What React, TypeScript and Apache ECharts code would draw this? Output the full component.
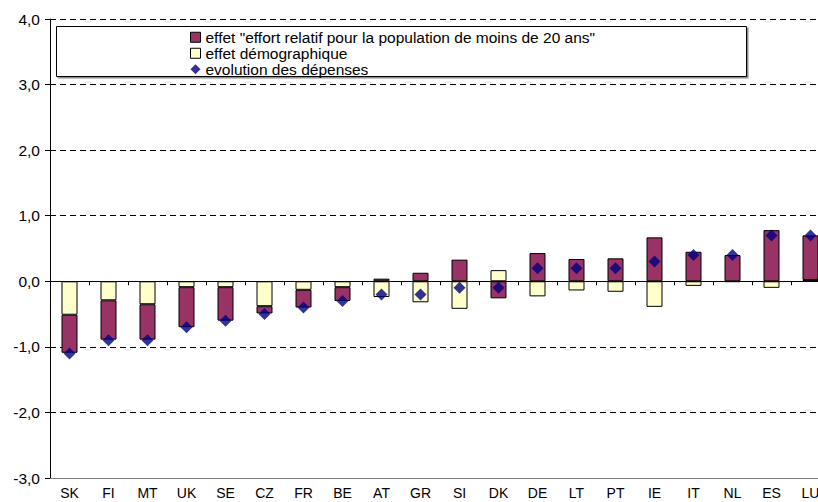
import React, { useEffect, useRef } from "react";
import * as echarts from "echarts";

const categories = ["SK", "FI", "MT", "UK", "SE", "CZ", "FR", "BE", "AT", "GR", "SI", "DK", "DE", "LT", "PT", "IE", "IT", "NL", "ES", "LU"];
const effortRelatif = [-0.58, -0.6, -0.54, -0.61, -0.51, -0.11, -0.27, -0.21, 0.04, 0.13, 0.33, -0.26, 0.43, 0.34, 0.35, 0.67, 0.45, 0.4, 0.78, 0.68];
const effetDemographique = [-0.51, -0.29, -0.35, -0.09, -0.09, -0.38, -0.13, -0.09, -0.24, -0.32, -0.42, 0.17, -0.23, -0.14, -0.16, -0.39, -0.07, -0.01, -0.1, 0.02];
const evolutionDepenses = [-1.1, -0.9, -0.9, -0.7, -0.6, -0.5, -0.4, -0.3, -0.2, -0.2, -0.1, -0.1, 0.2, 0.2, 0.2, 0.3, 0.4, 0.4, 0.7, 0.7];

const NAME_EFFORT = 'effet "effort relatif pour la population de moins de 20 ans"';
const NAME_DEMO = "effet démographique";
const NAME_EVOL = "evolution des dépenses";

const FONT = "'Liberation Sans', Arial, sans-serif";

export default function App() {
  const ref = useRef<HTMLDivElement>(null);
  useEffect(() => {
    if (!ref.current) return;
    const chart = echarts.init(ref.current, null, { renderer: "svg" });
    chart.setOption({
      animation: false,
      backgroundColor: "#fff",
      textStyle: { fontFamily: FONT },
      grid: { left: 50, top: 19, bottom: 24, right: -12, containLabel: false, outerBoundsMode: "none" },
      graphic: [
        {
          type: "rect",
          z: 1,
          shape: { x: 56.5, y: 26.5, width: 690, height: 50 },
          style: { fill: "#fff", stroke: "#000", lineWidth: 1, shadowColor: "rgba(0,0,0,0.45)", shadowOffsetX: 1.5, shadowOffsetY: 1.5, shadowBlur: 0 },
        },
      ],
      legend: {
        z: 10,
        left: 190,
        top: 29.25,
        orient: "vertical",
        itemGap: 0,
        itemWidth: 10,
        itemHeight: 10,
        padding: 0,
        textStyle: { fontSize: 15.5, lineHeight: 15.5, color: "#000", fontFamily: FONT },
        data: [
          { name: NAME_EFFORT, icon: "rect", itemStyle: { color: "#993366", borderColor: "#000", borderWidth: 1 } },
          { name: NAME_DEMO, icon: "rect", itemStyle: { color: "#FFFFCC", borderColor: "#000", borderWidth: 1 } },
          { name: NAME_EVOL, icon: "diamond", itemStyle: { color: "#000080", borderWidth: 0 } },
        ],
      },
      xAxis: [
        {
          type: "category",
          data: categories,
          axisLine: { onZero: true, lineStyle: { color: "#000", width: 1 } },
          axisTick: { show: true, length: 4, lineStyle: { color: "#000" } },
          axisLabel: { show: false },
          splitLine: { show: false },
          z: 5,
        },
        {
          type: "category",
          data: categories,
          position: "bottom",
          axisLine: { onZero: false, lineStyle: { color: "#808080", width: 1 } },
          axisTick: { show: false },
          axisLabel: { fontSize: 14, lineHeight: 14, color: "#000", margin: 8, fontFamily: FONT, interval: 0 },
          splitLine: { show: false },
        },
      ],
      yAxis: {
        type: "value",
        min: -3,
        max: 4,
        interval: 1,
        axisLine: { show: true, onZero: false, lineStyle: { color: "#000", width: 1 } },
        axisTick: { show: true, length: 5, lineStyle: { color: "#000" } },
        axisLabel: {
          fontSize: 15.5,
          color: "#000",
          margin: 10,
          fontFamily: FONT,
          formatter: (v: number) => v.toFixed(1).replace(".", ","),
        },
        splitLine: { show: true, lineStyle: { color: "#000", type: [6, 4], width: 1 } },
      },
      series: [
        {
          name: NAME_DEMO,
          type: "bar",
          stack: "total",
          xAxisIndex: 0,
          barWidth: 16,
          data: effetDemographique,
          itemStyle: { color: "#FFFFCC", borderColor: "#000", borderWidth: 1 },
        },
        {
          name: NAME_EFFORT,
          type: "bar",
          stack: "total",
          xAxisIndex: 0,
          barWidth: 16,
          data: effortRelatif,
          itemStyle: { color: "#993366", borderColor: "#000", borderWidth: 1 },
        },
        {
          name: NAME_EVOL,
          type: "scatter",
          xAxisIndex: 0,
          symbol: "diamond",
          symbolSize: 12,
          data: evolutionDepenses,
          itemStyle: { color: "#000080" },
          z: 6,
        },
      ],
    });
    return () => chart.dispose();
  }, []);
  return <div ref={ref} style={{ position: "fixed", left: 0, top: 0, width: 818, height: 502 }} />;
}
